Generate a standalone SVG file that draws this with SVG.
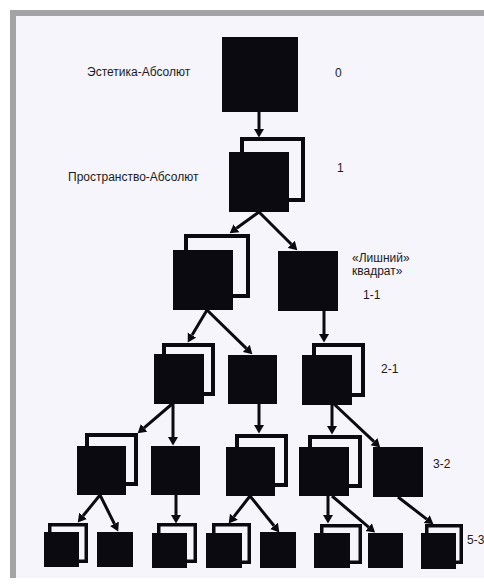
<svg xmlns="http://www.w3.org/2000/svg" width="484" height="587" viewBox="0 0 484 587">
<style>
.sq{fill:#0b0a10}
.fr{fill:none;stroke:#0b0a10;stroke-width:4}
.fs{fill:none;stroke:#0b0a10;stroke-width:3.5}
.ln{stroke:#0b0a10;stroke-width:3;fill:none}
.t{font-family:"Liberation Sans",Arial,sans-serif;font-size:12px;fill:#1c1c20}
</style>
<defs>
<marker id="ah" markerUnits="userSpaceOnUse" markerWidth="9" markerHeight="11" refX="0" refY="5" orient="auto" viewBox="0 0 9 10">
<path d="M0,0 L8.5,5 L0,10 z" fill="#0b0a10"/>
</marker>
</defs>
<rect x="0" y="0" width="484" height="587" fill="#ffffff"/>
<rect x="10" y="10" width="474" height="568" fill="#a4a4a7"/>
<rect x="16" y="16" width="468" height="562" fill="#f5f5fb"/>

<g id="connectors">
<line class="ln" x1="259" y1="112" x2="259" y2="129" marker-end="url(#ah)"/>
<line class="ln" x1="259" y1="212" x2="236.5" y2="228.3" marker-end="url(#ah)"/>
<line class="ln" x1="259" y1="212" x2="291.3" y2="244.3" marker-end="url(#ah)"/>
<line class="ln" x1="207" y1="310" x2="192.1" y2="335.1" marker-end="url(#ah)"/>
<line class="ln" x1="207" y1="310" x2="246.3" y2="348.4" marker-end="url(#ah)"/>
<line class="ln" x1="324" y1="311" x2="324" y2="334" marker-end="url(#ah)"/>
<line class="ln" x1="172" y1="404" x2="144.1" y2="427.8" marker-end="url(#ah)"/>
<line class="ln" x1="173" y1="404" x2="173" y2="437" marker-end="url(#ah)"/>
<line class="ln" x1="259" y1="404" x2="259" y2="425" marker-end="url(#ah)"/>
<line class="ln" x1="332" y1="404" x2="332" y2="426" marker-end="url(#ah)"/>
<line class="ln" x1="334" y1="404" x2="374" y2="441.7" marker-end="url(#ah)"/>
<line class="ln" x1="100" y1="495" x2="83.1" y2="515.8" marker-end="url(#ah)"/>
<line class="ln" x1="100" y1="495" x2="114.4" y2="523.8" marker-end="url(#ah)"/>
<line class="ln" x1="176" y1="495" x2="176" y2="515" marker-end="url(#ah)"/>
<line class="ln" x1="250" y1="496" x2="233.9" y2="516.7" marker-end="url(#ah)"/>
<line class="ln" x1="250" y1="496" x2="274" y2="525.8" marker-end="url(#ah)"/>
<line class="ln" x1="328" y1="496" x2="328" y2="515" marker-end="url(#ah)"/>
<line class="ln" x1="332" y1="496" x2="368.6" y2="527.1" marker-end="url(#ah)"/>
<line class="ln" x1="398" y1="497" x2="426.7" y2="519.1" marker-end="url(#ah)"/>
</g>

<g id="n0"><rect class="sq" x="222" y="37" width="76" height="75"/></g>
<g id="n1"><rect class="fr" x="242" y="139" width="61" height="61"/><rect class="sq" x="229" y="152" width="60" height="60"/></g>
<g id="n11a"><rect class="fr" x="186" y="236" width="62" height="60"/><rect class="sq" x="173" y="250" width="60" height="60"/></g>
<g id="n11b"><rect class="sq" x="278" y="251" width="60" height="60"/></g>
<g id="n21a"><rect class="fr" x="164" y="345" width="49" height="49"/><rect class="sq" x="154" y="354" width="50" height="50"/></g>
<g id="n21b"><rect class="sq" x="228" y="355" width="49" height="49"/></g>
<g id="n21c"><rect class="fr" x="314" y="345" width="49" height="50"/><rect class="sq" x="302" y="355" width="50" height="50"/></g>
<g id="n32a"><rect class="fr" x="87" y="435" width="49" height="49"/><rect class="sq" x="77" y="446" width="49" height="49"/></g>
<g id="n32b"><rect class="sq" x="151" y="446" width="49" height="49"/></g>
<g id="n32c"><rect class="fr" x="237" y="436" width="49" height="49"/><rect class="sq" x="226" y="447" width="49" height="49"/></g>
<g id="n32d"><rect class="fr" x="310" y="437" width="50" height="49"/><rect class="sq" x="299" y="447" width="50" height="49"/></g>
<g id="n32e"><rect class="sq" x="373" y="447" width="50" height="50"/></g>
<g id="n53a"><rect class="fs" x="49.75" y="524.75" width="36.5" height="36.5"/><rect class="sq" x="44" y="532" width="35" height="35"/></g>
<g id="n53b"><rect class="sq" x="97" y="532" width="36" height="35"/></g>
<g id="n53c"><rect class="fs" x="158.75" y="524.75" width="36.5" height="36.5"/><rect class="sq" x="152" y="533" width="35" height="35"/></g>
<g id="n53d"><rect class="fs" x="213.75" y="524.75" width="35.5" height="37.5"/><rect class="sq" x="206" y="533" width="36" height="35"/></g>
<g id="n53e"><rect class="sq" x="260" y="532" width="36" height="36"/></g>
<g id="n53f"><rect class="fs" x="321.75" y="525.75" width="38.5" height="36.5"/><rect class="sq" x="314" y="533" width="36" height="35"/></g>
<g id="n53g"><rect class="sq" x="368" y="533" width="35" height="35"/></g>
<g id="n53h"><rect class="fs" x="426.75" y="525.75" width="34.5" height="36.5"/><rect class="sq" x="421" y="533" width="35" height="36"/></g>

<g id="labels">
<text class="t" x="87" y="76">Эстетика-Абсолют</text>
<text class="t" x="335" y="77">0</text>
<text class="t" x="68" y="181">Пространство-Абсолют</text>
<text class="t" x="337" y="172">1</text>
<text class="t" x="352" y="262">«Лишний»</text>
<text class="t" x="352" y="275">квадрат»</text>
<text class="t" x="363" y="299">1-1</text>
<text class="t" x="381" y="373">2-1</text>
<text class="t" x="433" y="468">3-2</text>
<text class="t" x="467" y="544">5-3</text>
</g>
</svg>
